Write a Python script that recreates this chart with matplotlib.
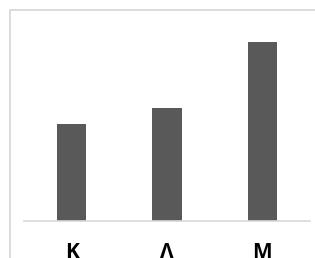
import matplotlib
matplotlib.use("Agg")
import matplotlib.pyplot as plt
from matplotlib.patches import Rectangle

categories = ["Κ", "Λ", "Μ"]
values = [5.4, 6.3, 10.0]

W, H = 315, 258
fig = plt.figure(figsize=(W/100, H/100), dpi=100)
fig.patch.set_facecolor("white")

# outer chart border
fig.patches.append(Rectangle((9.5/W, -0.1), 1.2, (H-10)/H + 0.1, transform=fig.transFigure,
                             fill=False, edgecolor="#d9d9d9", linewidth=1.3))

ax_left, ax_right = 24/W, 310/W
base_y, top_y = 221, 21
ax = fig.add_axes([ax_left, (H-base_y)/H, ax_right-ax_left, (base_y-top_y)/H])
ax.set_facecolor("none")
x = range(len(categories))
ax.bar(x, values, width=0.31, color="#595959")
ax.set_xlim(-0.5, 2.5)
ax.set_ylim(0, max(values) * (base_y-top_y) / (221-42))
for s in ["top", "right", "left"]:
    ax.spines[s].set_visible(False)
ax.spines["bottom"].set_color("#d9d9d9")
ax.spines["bottom"].set_linewidth(1.2)
ax.set_yticks([])
ax.set_xticks(list(x))
ax.set_xticklabels(categories, fontsize=15, fontweight="bold", family=["Open Sans", "DejaVu Sans"], color="#000000")
ax.tick_params(axis="x", length=0, pad=15)

fig.savefig("out.png", dpi=100)
